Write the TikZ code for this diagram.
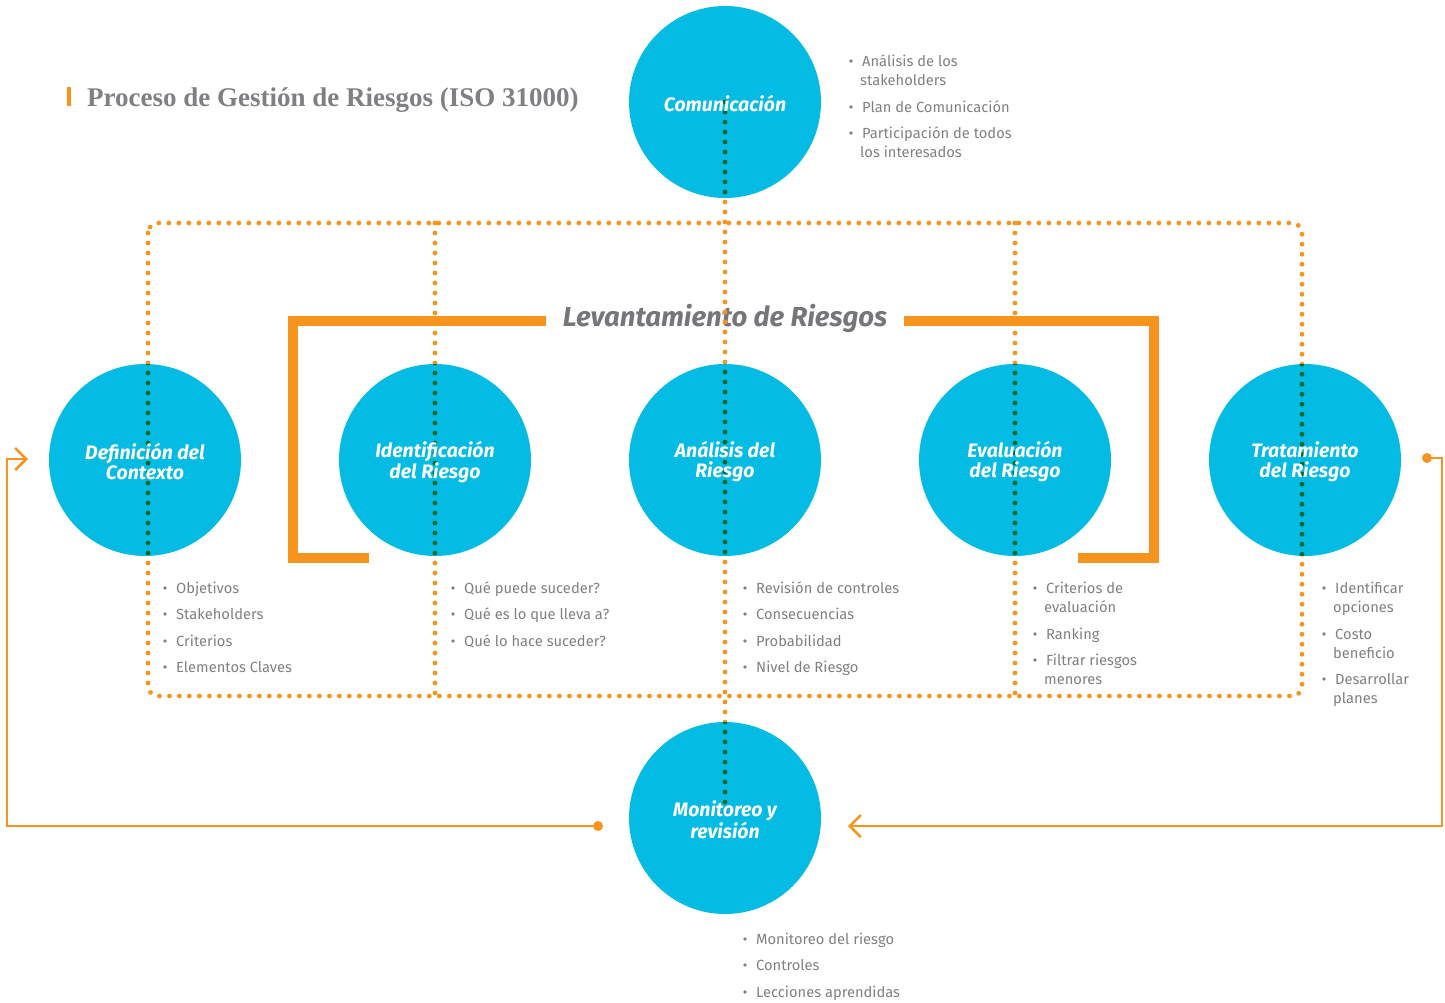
\documentclass[tikz,border=0pt]{standalone}
\usepackage{fontspec}
\setmainfont{Fira Sans}
\newfontfamily\titlefont{Liberation Serif}
\usetikzlibrary{arrows.meta}
\definecolor{cy}{RGB}{4,187,228}
\definecolor{org}{RGB}{247,148,29}
\definecolor{grn}{RGB}{0,105,40}
\definecolor{txt}{RGB}{128,128,130}
\definecolor{ttl}{RGB}{128,128,132}
\definecolor{lev}{RGB}{118,118,122}
\newcommand\bitem[4]{\fill[txt] (#2-11,#3) circle[radius=1.8pt];
  \node[itm] (#1) at (#2,#3+2.5) {#4};}
\newcommand\citem[4]{\node[itm] (#1) at (#2,#3+2.5) {#4};}
\begin{document}
\begin{tikzpicture}[x=1pt,y=-1pt,
  circ/.style={circle, fill=cy, minimum size=192pt, inner sep=0pt},
  clab/.style={text=white, font=\fontsize{19.5}{20}\selectfont\bfseries\itshape, align=center, inner sep=0pt},
  dotline/.style={draw=org, line width=4.8pt, dash pattern=on 0pt off 10pt, line cap=round},
  gdot/.style={dotline, draw=grn},
  bracket/.style={draw=org, line width=10pt},
  loopline/.style={draw=org, line width=2.5pt},
  endtip/.style={-{Straight Barb[length=11pt,width=22pt,line width=2.5pt]}},
  itm/.style={anchor=mid west, text=txt, font=\fontsize{14.7}{18}\selectfont, inner sep=0pt},
  ]
\useasboundingbox (0,0) rectangle (1445,1002);

% title
\fill[org] (67,87) rectangle (71,106);
\node[anchor=base west, inner sep=0pt, text=ttl, font=\titlefont\fontsize{27}{30}\selectfont\bfseries] (title) at (87,106) {Proceso de Gestión de Riesgos (ISO 31000)};

% coordinates of the dotted frame
\coordinate (rtl) at (148,223);
\coordinate (rbr) at (1302,696);
\coordinate (mtop) at (725,102);
\coordinate (mbot) at (725,818);
\coordinate (v2t) at (435,223);
\coordinate (v2b) at (435,696);
\coordinate (v4t) at (1015,223);
\coordinate (v4b) at (1015,696);

% brackets
\draw[bracket] (369,558) -- (293,558) -- (293,321) -- (546,321);
\draw[bracket] (904,321) -- (1153.5,321) -- (1153.5,558) -- (1078,558);
\node[inner sep=0pt, text=lev, font=\fontsize{27.5}{30}\selectfont\bfseries\itshape] (lev) at (725,318) {Levantamiento de Riesgos};

% orange dotted lines
\draw[dotline, rounded corners=10pt] (rtl) rectangle (rbr);
\draw[dotline] (mtop) -- (mbot);
\draw[dotline] (v2t) -- (v2b);
\draw[dotline] (v4t) -- (v4b);

% circles
\node[circ] (c0) at (725,102) {};
\node[circ] (c1) at (145,460) {};
\node[circ] (c2) at (435,460) {};
\node[circ] (c3) at (725,460) {};
\node[circ] (c4) at (1015,460) {};
\node[circ] (c5) at (1305,460) {};
\node[circ] (cm) at (725,818) {};

% green dots inside circles
\begin{scope}
\clip (c1.center) circle[radius=96pt] (c5.center) circle[radius=96pt];
\draw[gdot, rounded corners=10pt] (rtl) rectangle (rbr);
\end{scope}
\begin{scope}
\clip (c0.center) circle[radius=96pt] (c3.center) circle[radius=96pt] (cm.center) circle[radius=96pt];
\draw[gdot] (mtop) -- (mbot);
\end{scope}
\begin{scope}
\clip (c2.center) circle[radius=96pt];
\draw[gdot] (v2t) -- (v2b);
\end{scope}
\begin{scope}
\clip (c4.center) circle[radius=96pt];
\draw[gdot] (v4t) -- (v4b);
\end{scope}

% circle labels
\node[clab] (l0) at (725,104) {Comunicación};
\node[clab] (l1) at (145,462) {Definición del\\Contexto};
\node[clab] (l2) at (435,462) {Identificación\\del Riesgo};
\node[clab] (l3) at (725,462) {Análisis del\\Riesgo};
\node[clab] (l4) at (1015,462) {Evaluación\\del Riesgo};
\node[clab] (l5) at (1305,462) {Tratamiento\\del Riesgo};
\node[clab] (lm) at (725,820) {Monitoreo y\\revisión};

% feedback loops
\node[circle, fill=org, minimum size=10pt, inner sep=0pt] (dA) at (598,826) {};
\coordinate (tA) at (28,459);
\draw[loopline, endtip] (dA.center) -- (7,826) -- (7,459) -- (tA);
\node[circle, fill=org, minimum size=10pt, inner sep=0pt] (dB) at (1427,458) {};
\coordinate (tB) at (848,826);
\draw[loopline, endtip] (dB.center) -- (1442,458) -- (1442,826) -- (tB);

% lists
\bitem{a1}{862}{61}{Análisis de los}
\citem{a2}{860}{80}{stakeholders}
\bitem{a3}{862}{107}{Plan de Comunicación}
\bitem{a4}{862}{133}{Participación de todos}
\citem{a5}{860}{152}{los interesados}

\bitem{b1}{176}{588}{Objetivos}
\bitem{b2}{176}{614}{Stakeholders}
\bitem{b3}{176}{641}{Criterios}
\bitem{b4}{176}{667}{Elementos Claves}

\bitem{d1}{464}{588}{Qué puede suceder?}
\bitem{d2}{464}{614}{Qué es lo que lleva a?}
\bitem{d3}{464}{641}{Qué lo hace suceder?}

\bitem{e1}{756}{588}{Revisión de controles}
\bitem{e2}{756}{614}{Consecuencias}
\bitem{e3}{756}{641}{Probabilidad}
\bitem{e4}{756}{667}{Nivel de Riesgo}

\bitem{f1}{1046}{588}{Criterios de}
\citem{f2}{1044}{607}{evaluación}
\bitem{f3}{1046}{634}{Ranking}
\bitem{f4}{1046}{660}{Filtrar riesgos}
\citem{f5}{1044}{679}{menores}

\bitem{g1}{1335}{588}{Identificar}
\citem{g2}{1333}{607}{opciones}
\bitem{g3}{1335}{634}{Costo}
\citem{g4}{1333}{653}{beneficio}
\bitem{g5}{1335}{679}{Desarrollar}
\citem{g6}{1333}{698}{planes}

\bitem{h1}{756}{939}{Monitoreo del riesgo}
\bitem{h2}{756}{965}{Controles}
\bitem{h3}{756}{992}{Lecciones aprendidas}
\end{tikzpicture}
\end{document}
